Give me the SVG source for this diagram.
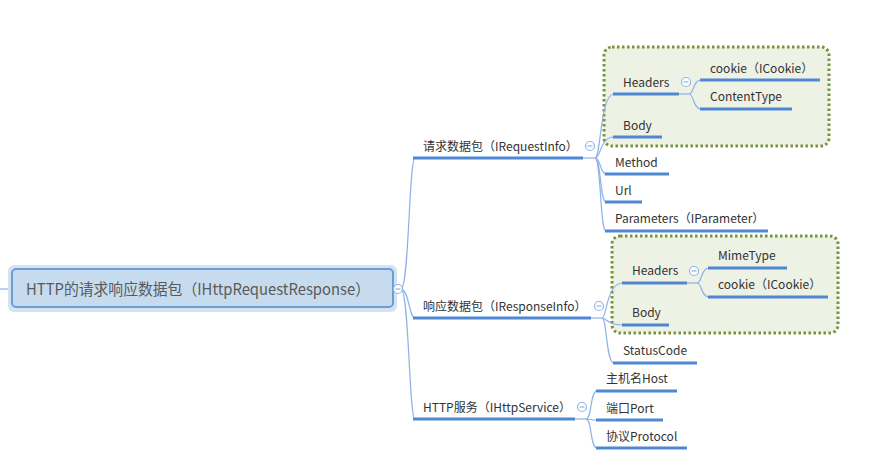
<svg xmlns="http://www.w3.org/2000/svg" width="892" height="473" viewBox="0 0 892 473">
<style>
text{font-family:"Noto Sans CJK SC","Liberation Sans",sans-serif;font-size:12px;fill:#333333}
.root{font-size:15.5px;fill:#5a5a5a}
.ul{stroke:#4f87d3;stroke-width:3;fill:none}
.cn{stroke:#8db3e6;stroke-width:1.2;fill:none}
.col{fill:#ffffff;stroke:#90b6e6;stroke-width:1.2}
.minus{stroke:#90b6e6;stroke-width:1.2}
.grp{fill:#eef2e4;stroke:#77933c;stroke-width:3;stroke-dasharray:2.5 2.5}
</style>
<g id="groups">
<rect class="grp" x="604" y="47" width="225" height="99" rx="8"/>
<rect class="grp" x="612" y="236" width="226" height="97" rx="8"/>
</g>
<g id="connectors">
<path class="cn" d="M0 289 L12 289"/>
<path class="cn" d="M401 289 C409 289 409 158 415 158"/>
<path class="cn" d="M401 289 C409 289 409 318 415 318"/>
<path class="cn" d="M401 289 C409 289 409 419 415 419"/>
<path class="cn" d="M583 158 L595 158"/>
<path class="cn" d="M595 158 C601 158 600 94 614 94"/>
<path class="cn" d="M595 158 C601 158 600 137 614 137"/>
<path class="cn" d="M595 158 C601 158 600 174 606 174"/>
<path class="cn" d="M595 158 C601 158 600 202 606 202"/>
<path class="cn" d="M595 158 C601 158 600 231 606 231"/>
<path class="cn" d="M591 318 L602 318"/>
<path class="cn" d="M602 318 C607 318 606 283 623 283"/>
<path class="cn" d="M602 318 C607 318 606 325 623 325"/>
<path class="cn" d="M602 318 C607 318 606 363 614 363"/>
<path class="cn" d="M575 419 L586 419"/>
<path class="cn" d="M586 419 C592 419 590 391 597 391"/>
<path class="cn" d="M586 419 C592 419 590 420 597 420"/>
<path class="cn" d="M586 419 C592 419 590 448 597 448"/>
<path class="cn" d="M679 94 L689 94"/>
<path class="cn" d="M689 94 C694 94 693 80 701 80"/>
<path class="cn" d="M689 94 C694 94 693 109 701 109"/>
<path class="cn" d="M687 283 L697 283"/>
<path class="cn" d="M697 283 C702 283 701 268 709 268"/>
<path class="cn" d="M697 283 C702 283 701 297 709 297"/>
</g>
<g id="root">
<rect x="8" y="265" width="389" height="47" rx="6" fill="#d5e3f0"/>
<rect x="12" y="269" width="381" height="38" rx="4" fill="#c6dbee" stroke="#6a9fd8" stroke-width="2"/>
<text class="root" x="26" y="294.5" textLength="344" lengthAdjust="spacingAndGlyphs">HTTP的请求响应数据包（IHttpRequestResponse）</text>
<circle class="col" cx="398" cy="289" r="4.5"/><path class="minus" d="M395.5 289h5"/>
</g>
<g id="req">
<text x="423" y="151">请求数据包（IRequestInfo）</text>
<path class="ul" d="M413 158H583"/>
<circle class="col" cx="590" cy="146" r="4.5"/><path class="minus" d="M587.5 146h5"/>
</g>
<g id="req-headers">
<text x="623" y="87">Headers</text>
<path class="ul" d="M613 94H679"/>
<circle class="col" cx="686" cy="82" r="4.5"/><path class="minus" d="M683.5 82h5"/>
</g>
<g id="req-cookie"><text x="710" y="73">cookie（ICookie）</text><path class="ul" d="M700 80H820"/></g>
<g id="req-contenttype"><text x="710" y="101">ContentType</text><path class="ul" d="M700 109H792"/></g>
<g id="req-body"><text x="623" y="130">Body</text><path class="ul" d="M613 137H662"/></g>
<g id="req-method"><text x="615" y="167">Method</text><path class="ul" d="M605 174H669"/></g>
<g id="req-url"><text x="615" y="195">Url</text><path class="ul" d="M605 202H642"/></g>
<g id="req-params"><text x="615" y="223">Parameters（IParameter）</text><path class="ul" d="M605 231H768"/></g>
<g id="resp">
<text x="423" y="311">响应数据包（IResponseInfo）</text>
<path class="ul" d="M413 318H591"/>
<circle class="col" cx="599" cy="306" r="4.5"/><path class="minus" d="M596.5 306h5"/>
</g>
<g id="resp-headers">
<text x="632" y="275">Headers</text>
<path class="ul" d="M622 283H687"/>
<circle class="col" cx="694" cy="271" r="4.5"/><path class="minus" d="M691.5 271h5"/>
</g>
<g id="resp-mimetype"><text x="718" y="260">MimeType</text><path class="ul" d="M708 268H787"/></g>
<g id="resp-cookie"><text x="718" y="289">cookie（ICookie）</text><path class="ul" d="M708 297H828"/></g>
<g id="resp-body"><text x="632" y="317">Body</text><path class="ul" d="M622 325H669"/></g>
<g id="resp-status"><text x="623" y="355">StatusCode</text><path class="ul" d="M613 363H697"/></g>
<g id="svc">
<text x="423" y="412">HTTP服务（IHttpService）</text>
<path class="ul" d="M413 419H575"/>
<circle class="col" cx="582" cy="407" r="4.5"/><path class="minus" d="M579.5 407h5"/>
</g>
<g id="svc-host"><text x="606" y="383">主机名Host</text><path class="ul" d="M596 391H677"/></g>
<g id="svc-port"><text x="606" y="413">端口Port</text><path class="ul" d="M596 420H663"/></g>
<g id="svc-protocol"><text x="606" y="441">协议Protocol</text><path class="ul" d="M596 448H687"/></g>
</svg>
